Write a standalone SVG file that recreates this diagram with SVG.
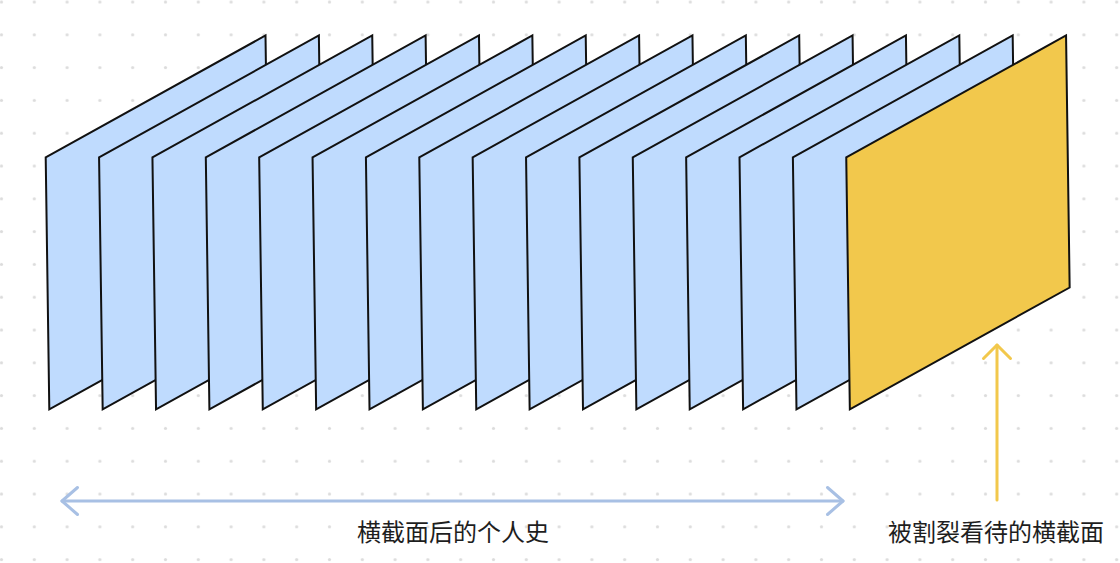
<svg xmlns="http://www.w3.org/2000/svg" width="1120" height="563" viewBox="0 0 1120 563">
  <defs>
    <pattern id="dots" x="-14.9" y="-14.4" width="32.8" height="32.8" patternUnits="userSpaceOnUse">
      <circle cx="16.4" cy="16.4" r="1.6" fill="#dcdcdc"/>
    </pattern>
    <polygon id="slice" points="45.7,157.3 265.5,35.5 269.1,287.5 49.3,409.3"/>
  </defs>
  <style>
    .blue { fill: #bfdbfe; stroke: #111; stroke-width: 2; stroke-linejoin: miter; }
    .gold { fill: #f2c84c; stroke: #111; stroke-width: 2; stroke-linejoin: miter; }
    .conn { fill: none; stroke-width: 3; stroke-linecap: round; stroke-linejoin: round; }
    .conn-blue { stroke: #a8c0e4; }
    .conn-gold { stroke: #f2c84c; }
    .label { font-family: "Noto Sans CJK SC", "Noto Sans", sans-serif; font-size: 24px; fill: #1e1e1e; text-anchor: middle; }
  </style>
  <rect width="1120" height="563" fill="#ffffff"/>
  <rect width="1120" height="563" fill="url(#dots)"/>

  <g id="slices">
    <g id="slice-1"><use href="#slice" class="blue" transform="translate(0 0)"/></g>
    <g id="slice-2"><use href="#slice" class="blue" transform="translate(53.37 0)"/></g>
    <g id="slice-3"><use href="#slice" class="blue" transform="translate(106.74 0)"/></g>
    <g id="slice-4"><use href="#slice" class="blue" transform="translate(160.11 0)"/></g>
    <g id="slice-5"><use href="#slice" class="blue" transform="translate(213.48 0)"/></g>
    <g id="slice-6"><use href="#slice" class="blue" transform="translate(266.85 0)"/></g>
    <g id="slice-7"><use href="#slice" class="blue" transform="translate(320.22 0)"/></g>
    <g id="slice-8"><use href="#slice" class="blue" transform="translate(373.59 0)"/></g>
    <g id="slice-9"><use href="#slice" class="blue" transform="translate(426.96 0)"/></g>
    <g id="slice-10"><use href="#slice" class="blue" transform="translate(480.33 0)"/></g>
    <g id="slice-11"><use href="#slice" class="blue" transform="translate(533.7 0)"/></g>
    <g id="slice-12"><use href="#slice" class="blue" transform="translate(587.07 0)"/></g>
    <g id="slice-13"><use href="#slice" class="blue" transform="translate(640.44 0)"/></g>
    <g id="slice-14"><use href="#slice" class="blue" transform="translate(693.81 0)"/></g>
    <g id="slice-15"><use href="#slice" class="blue" transform="translate(747.18 0)"/></g>
    <g id="slice-current"><use href="#slice" class="gold" transform="translate(800.55 0)"/></g>
  </g>

  <g id="connectors">
    <g id="history-span">
      <line class="conn conn-blue" x1="62" y1="501" x2="843" y2="501"/>
      <polyline class="conn conn-blue" points="77.5,487.5 62,501 77.5,514.5"/>
      <polyline class="conn conn-blue" points="827.5,487.5 843,501 827.5,514.5"/>
    </g>
    <g id="current-pointer">
      <line class="conn conn-gold" x1="997" y1="500" x2="997" y2="345"/>
      <polyline class="conn conn-gold" points="983.5,358.5 997,345 1010.5,358.5"/>
    </g>
  </g>

  <g id="label-history">
    <text class="label" x="453" y="541">横截面后的个人史</text>
  </g>
  <g id="label-current">
    <text class="label" x="996" y="541">被割裂看待的横截面</text>
  </g>
</svg>
